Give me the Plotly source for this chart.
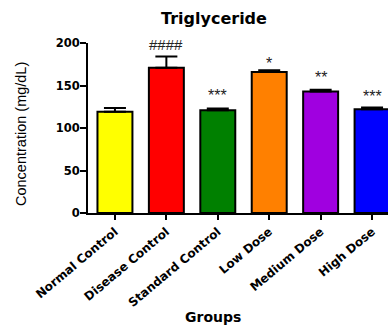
import plotly.graph_objects as go

groups = ["Normal Control", "Disease Control", "Standard Control", "Low Dose", "Medium Dose", "High Dose"]
means = [119, 171, 121, 166, 143, 122]
errors = [4.5, 13, 2, 2, 2, 2]
signif = ["", "####", "***", "*", "**", "***"]
colors = ["#FFFF00", "#FF0000", "#008000", "#FF8000", "#A000E0", "#0000FF"]
y_ticks = [0, 50, 100, 150, 200]

# pixel offsets of the significance labels above the error-bar tops (style only)
label_shift = [0, 12, 12.5, 6.5, 12, 11]
label_size = [15, 15, 16, 16, 16, 16]

BOLD = "DejaVu Sans"
ARIAL = "Liberation Sans"

fig = go.Figure()
fig.add_trace(go.Bar(
    x=list(range(len(groups))), y=means,
    marker=dict(color=colors, line=dict(color="black", width=2)),
    width=0.68,
    error_y=dict(type="data", array=errors, arrayminus=[0]*len(errors), symmetric=False,
                 color="black", thickness=2, width=11),
))

for i, (m, e, s) in enumerate(zip(means, errors, signif)):
    if s:
        fig.add_annotation(x=i, y=m + e, yshift=label_shift[i], text=s, showarrow=False,
                           xref="x", yref="y", yanchor="middle",
                           font=dict(family=ARIAL, size=label_size[i], color="#222"))

W = 300.0
fig.add_annotation(text="<b>Triglyceride</b>", x=(214 - 88) / W, y=1.0, xref="paper", yref="paper",
                   yshift=25, showarrow=False, yanchor="middle",
                   font=dict(family=BOLD, size=16, color="black"))
fig.add_annotation(text="<b>Groups</b>", x=(212.5 - 88) / W, y=0, xref="paper", yref="paper",
                   yshift=-104, showarrow=False, yanchor="middle",
                   font=dict(family=BOLD, size=14, color="black"))
fig.add_annotation(text="Concentration (mg/dL)", x=(21 - 88) / W, y=0.5, yshift=-6,
                   xref="paper", yref="paper", textangle=-90,
                   showarrow=False, xanchor="center", yanchor="middle",
                   font=dict(family=ARIAL, size=14.5, color="black"))

fig.update_layout(
    width=388, height=325,
    margin=dict(l=88, r=0, t=43, b=112),
    plot_bgcolor="white", paper_bgcolor="white",
    showlegend=False,
    font=dict(family=BOLD, color="black"),
)
fig.update_xaxes(
    range=[-0.524, 5.31], tickmode="array", tickvals=list(range(len(groups))),
    ticktext=[f"<b>{g}</b>" for g in groups], tickangle=-40,
    showline=True, linecolor="black", linewidth=2,
    ticks="outside", ticklen=5, tickwidth=2, tickcolor="black",
    tickfont=dict(family=BOLD, size=12, color="black"),
    showgrid=False, zeroline=False,
)
fig.update_yaxes(
    range=[0, 200], tickmode="array", tickvals=y_ticks,
    ticktext=[f"<b>{t}</b>" for t in y_ticks],
    showline=True, linecolor="black", linewidth=2,
    ticks="outside", ticklen=6, tickwidth=2, tickcolor="black",
    tickfont=dict(family=BOLD, size=11.5, color="black"),
    ticklabelstandoff=-2,
    showgrid=False, zeroline=False,
)

fig.write_html("out.html")
